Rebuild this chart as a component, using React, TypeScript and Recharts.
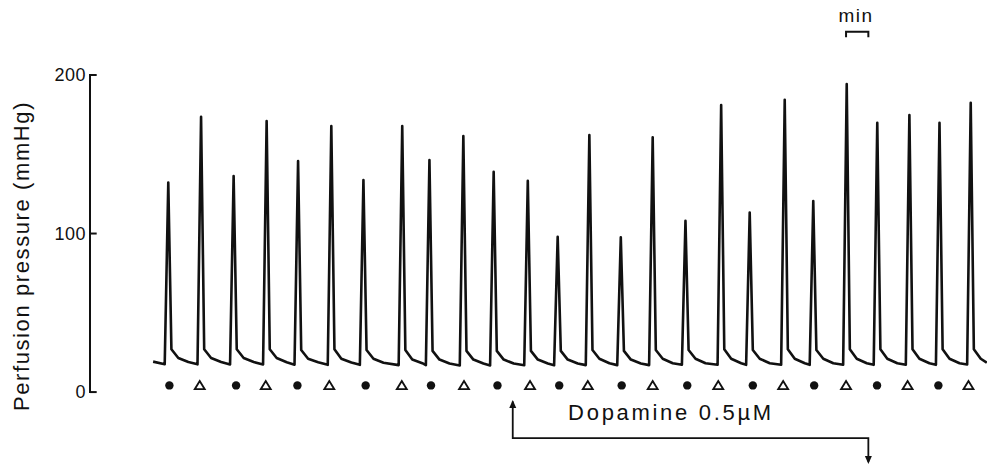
import { ComposedChart, Line, Scatter, XAxis, YAxis, ReferenceLine, Customized } from 'recharts';

// time in minutes (1 min = scale bar), pressure in mmHg
const trace: [number, number][] = [
  [2.83, 19.2],
  [3.35, 17.6], [3.51, 132.1], [3.65, 27], [3.96, 21.5], [4.41, 19],
  [4.82, 17.5], [4.98, 173.7], [5.12, 27], [5.43, 21.5], [5.88, 19],
  [6.28, 17.4], [6.44, 136.3], [6.58, 27], [6.89, 21.5], [7.34, 19],
  [7.76, 17.4], [7.92, 171.0], [8.06, 27], [8.37, 21.5], [8.82, 18.8],
  [9.17, 17.3], [9.33, 145.7], [9.47, 26.5], [9.78, 21], [10.23, 18.8],
  [10.66, 17.2], [10.82, 167.8], [10.96, 27], [11.27, 21], [11.72, 18.6],
  [12.1, 17.2], [12.26, 133.8], [12.4, 26.5], [12.71, 21], [13.16, 18.5],
  [13.84, 17], [14.0, 167.8], [14.14, 26.5], [14.45, 20.5], [14.9, 18.2],
  [15.06, 17], [15.22, 146.4], [15.36, 26], [15.67, 20.5], [16.12, 18],
  [16.58, 16.8], [16.74, 161.5], [16.88, 26], [17.19, 20.5], [17.64, 18],
  [17.94, 16.8], [18.1, 139.0], [18.24, 26], [18.55, 20.5], [19.0, 18],
  [19.47, 16.9], [19.63, 133.3], [19.77, 26], [20.08, 20.5], [20.53, 18],
  [20.81, 16.9], [20.97, 98.0], [21.11, 26], [21.42, 20.5], [21.87, 18],
  [22.23, 17], [22.39, 162.2], [22.53, 26.5], [22.84, 21], [23.29, 18.2],
  [23.64, 17], [23.8, 97.6], [23.94, 26], [24.25, 20.5], [24.7, 18],
  [25.07, 17], [25.23, 160.7], [25.37, 26.5], [25.68, 21], [26.13, 18.2],
  [26.54, 17.2], [26.7, 108.1], [26.84, 26.5], [27.15, 21], [27.6, 18.2],
  [28.14, 17.2], [28.3, 181.1], [28.44, 27], [28.75, 21], [29.2, 18.2],
  [29.42, 17.2], [29.58, 113.2], [29.72, 26.5], [30.03, 21], [30.48, 18.2],
  [30.99, 17.2], [31.15, 184.4], [31.29, 27], [31.6, 21], [32.05, 18.2],
  [32.27, 17.2], [32.43, 120.5], [32.57, 26.5], [32.88, 21], [33.33, 18.2],
  [33.77, 17.2], [33.93, 194.3], [34.07, 27], [34.38, 21], [34.83, 18.2],
  [35.14, 17.2], [35.3, 169.9], [35.44, 27], [35.75, 21], [36.2, 18.2],
  [36.58, 17.2], [36.74, 174.8], [36.88, 27], [37.19, 21], [37.64, 18.2],
  [37.93, 17.2], [38.09, 169.9], [38.23, 27], [38.54, 21], [38.99, 18.2],
  [39.33, 17.4], [39.49, 182.5], [39.63, 27], [39.94, 21], [40.21, 18.5],
];

// stimulus markers under the trace
const circleTimes = [3.56, 6.55, 9.3, 12.36, 15.29, 18.27, 21.04, 23.84, 26.78, 29.72, 32.47, 35.29, 38.04];
const triangleTimes = [4.92, 7.88, 10.73, 13.98, 16.77, 19.73, 22.32, 25.23, 28.17, 31.08, 33.9, 36.66, 39.39];
const markerLevel = 4.2;

const yTicks = [0, 100, 200];

const dopaminePath = [
  { t: 18.955, v: -6 },
  { t: 18.955, v: -29.1 },
  { t: 34.9, v: -29.1 },
  { t: 34.9, v: -44 },
];
const arrowTips = [
  { t: 18.955, v: -5, dir: 'up' },
  { t: 34.9, v: -45.4, dir: 'down' },
];
const minuteBar = [
  { t: 33.9, v: 223.8 },
  { t: 33.9, v: 227.3 },
  { t: 34.9, v: 227.3 },
  { t: 34.9, v: 223.8 },
];

const traceData = trace.map(([t, v]) => ({ t, v }));
const circleData = circleTimes.map((t) => ({ t, v: markerLevel }));
const triangleData = triangleTimes.map((t) => ({ t, v: markerLevel }));

const FONT = '"Liberation Sans", Arial, Helvetica, sans-serif';
const INK = '#111';

const YTick = (props: any) => {
  const { y, payload } = props;
  return (
    <text x={86} y={y + 6} textAnchor="end" fontSize={18} letterSpacing={0.5} fontFamily={FONT} fill={INK}>
      {payload.value}
    </text>
  );
};

const Dot = (props: any) => <circle cx={props.cx} cy={props.cy} r={4.2} fill={INK} />;

const OpenTriangle = (props: any) => {
  const { cx, cy } = props;
  return (
    <path
      d={`M${cx},${cy - 4.5} L${cx + 5},${cy + 3.8} L${cx - 5},${cy + 3.8} Z`}
      fill="#fff"
      stroke={INK}
      strokeWidth={1.8}
    />
  );
};

const ArrowHead = (props: any) => {
  const { cx, cy, payload } = props;
  const s = payload.dir === 'up' ? 1 : -1;
  return <path d={`M${cx},${cy} L${cx + 3.5},${cy + s * 8} L${cx - 3.5},${cy + s * 8} Z`} fill={INK} />;
};

const Labels = () => (
  <g fontFamily={FONT} fill={INK}>
    <text x={29} y={256} transform="rotate(-90, 29, 256)" textAnchor="middle" fontSize={22} letterSpacing={1.6}>
      Perfusion pressure (mmHg)
    </text>
    <text x={856} y={22} textAnchor="middle" fontSize={19} letterSpacing={1.5}>
      min
    </text>
    <text x={671} y={420} textAnchor="middle" fontSize={22} letterSpacing={2.7}>
      Dopamine 0.5µM
    </text>
  </g>
);

export default function App() {
  return (
    <div style={{ position: 'absolute', left: 0, top: 0, background: '#fff' }}>
      <ComposedChart width={987} height={465} margin={{ top: 10, right: 0, bottom: 0, left: 0 }}>
        <XAxis dataKey="t" type="number" domain={[0, 40.22]} allowDataOverflow hide />
        <YAxis
          type="number"
          domain={[-46, 241]}
          allowDataOverflow
          ticks={yTicks}
          width={90}
          axisLine={false}
          tickLine={false}
          tickSize={0}
          tickMargin={0}
          tick={YTick}
          interval={0}
        />
        <ReferenceLine
          segment={[{ x: 0, y: -0.6 }, { x: 0, y: 200.6 }]}
          stroke={INK}
          strokeWidth={2}
          ifOverflow="visible"
        />
        {yTicks.map((v) => (
          <ReferenceLine
            key={v}
            segment={[{ x: 0, y: v }, { x: 0.3, y: v }]}
            stroke={INK}
            strokeWidth={2}
            ifOverflow="visible"
          />
        ))}
        <Line
          data={traceData}
          dataKey="v"
          type="linear"
          stroke={INK}
          strokeWidth={2.6}
          strokeLinejoin="round"
          dot={false}
          activeDot={false}
          isAnimationActive={false}
        />
        <Line
          data={dopaminePath}
          dataKey="v"
          type="linear"
          stroke={INK}
          strokeWidth={1.8}
          dot={false}
          activeDot={false}
          isAnimationActive={false}
        />
        <Line
          data={minuteBar}
          dataKey="v"
          type="linear"
          stroke={INK}
          strokeWidth={2}
          dot={false}
          activeDot={false}
          isAnimationActive={false}
        />
        <Scatter data={circleData} dataKey="v" shape={Dot} isAnimationActive={false} />
        <Scatter data={triangleData} dataKey="v" shape={OpenTriangle} isAnimationActive={false} />
        <Scatter data={arrowTips} dataKey="v" shape={ArrowHead} isAnimationActive={false} />
        <Customized component={Labels} />
      </ComposedChart>
    </div>
  );
}
